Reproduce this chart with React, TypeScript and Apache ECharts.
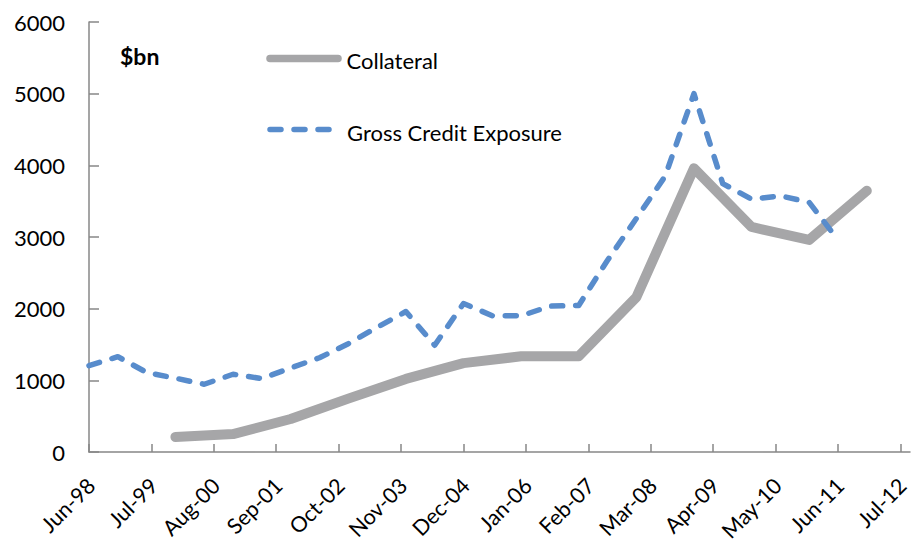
import React, { useEffect, useRef } from 'react';
import * as echarts from 'echarts';

const MONTHS = ['Jan', 'Feb', 'Mar', 'Apr', 'May', 'Jun', 'Jul', 'Aug', 'Sep', 'Oct', 'Nov', 'Dec'];

// Axis
const X_START = 'Jun-98';
const X_END = 'Sep-12';
const X_TICK_LABELS = ['Jun-98', 'Jul-99', 'Aug-00', 'Sep-01', 'Oct-02', 'Nov-03', 'Dec-04', 'Jan-06', 'Feb-07', 'Mar-08', 'Apr-09', 'May-10', 'Jun-11', 'Jul-12'];
const Y_MIN = 0;
const Y_MAX = 6000;
const Y_STEP = 1000;

// Gross Credit Exposure (semi-annual)
const GCE_DATES = ['Jun-98', 'Dec-98', 'Jun-99', 'Dec-99', 'Jun-00', 'Dec-00', 'Jun-01', 'Dec-01', 'Jun-02', 'Dec-02', 'Jun-03', 'Dec-03', 'Jun-04', 'Dec-04', 'Jun-05', 'Dec-05', 'Jun-06', 'Dec-06', 'Jun-07', 'Dec-07', 'Jun-08', 'Dec-08', 'Jun-09', 'Dec-09', 'Jun-10', 'Dec-10', 'Jun-11'];
const GCE_VALUES = [1205, 1330, 1110, 1030, 945, 1085, 1025, 1172, 1315, 1511, 1740, 1960, 1490, 2072, 1902, 1900, 2035, 2045, 2675, 3258, 3848, 5000, 3745, 3528, 3574, 3484, 2960];

// Collateral (annual, year-end)
const COLLATERAL_DATES = ['Dec-99', 'Dec-00', 'Dec-01', 'Dec-02', 'Dec-03', 'Dec-04', 'Dec-05', 'Dec-06', 'Dec-07', 'Dec-08', 'Dec-09', 'Dec-10', 'Dec-11'];
const COLLATERAL_VALUES = [210, 250, 460, 745, 1020, 1240, 1335, 1335, 2160, 3960, 3140, 2960, 3645];

const SERIES_NAMES = ['Collateral', 'Gross Credit Exposure'];
const UNIT_LABEL = '$bn';

const GREY = '#A6A6A8';
const BLUE = '#588CCC';

function dateToMonth(d: string): number {
  const [mon, yy] = d.split('-');
  const y = parseInt(yy, 10);
  const year = y < 50 ? 2000 + y : 1900 + y;
  const m = MONTHS.indexOf(mon);
  const [m0, yy0] = X_START.split('-');
  const y0 = parseInt(yy0, 10);
  const year0 = y0 < 50 ? 2000 + y0 : 1900 + y0;
  return (year - year0) * 12 + m - MONTHS.indexOf(m0);
}

const TICK_VALUES = X_TICK_LABELS.map(dateToMonth);

export default function App() {
  const ref = useRef<HTMLDivElement>(null);
  useEffect(() => {
    document.body.style.margin = '0';
    if (!ref.current) return;
    const chart = echarts.init(ref.current, undefined, { renderer: 'svg' });
    const axisColor = '#878787';
    const option: any = {
      animation: false,
      textStyle: { fontFamily: 'Lato' },
      grid: { left: 89, right: 2, top: 22, bottom: 91, containLabel: false, outerBoundsMode: 'none' },
      xAxis: {
        type: 'value',
        min: dateToMonth(X_START),
        max: dateToMonth(X_END),
        axisLine: { show: true, onZero: false, lineStyle: { color: axisColor, width: 1.5 } },
        axisTick: { show: true, inside: true, length: 8, lineStyle: { color: axisColor, width: 1.5 }, customValues: TICK_VALUES },
        axisLabel: {
          customValues: TICK_VALUES,
          formatter: (v: number) => {
            const i = TICK_VALUES.indexOf(Math.round(v));
            return i >= 0 ? X_TICK_LABELS[i] : '';
          },
          rotate: 45,
          margin: 32,
          padding: [0, -3, 0, 0],
          fontSize: 21.5,
          color: '#000',
          fontFamily: 'Lato',
        },
        splitLine: { show: false },
      },
      yAxis: {
        type: 'value',
        min: Y_MIN,
        max: Y_MAX,
        interval: Y_STEP,
        axisLine: { show: true, lineStyle: { color: axisColor, width: 1.5 } },
        axisTick: { show: true, inside: true, length: 10, lineStyle: { color: axisColor, width: 1.5 } },
        axisLabel: { margin: 24, fontSize: 22, color: '#000', fontFamily: 'Lato', formatter: (v: number) => String(v) },
        splitLine: { show: false },
      },
      graphic: [
        { type: 'text', left: 120, top: 44, style: { text: UNIT_LABEL, font: 'bold 23px Lato', fill: '#000' } },
        {
          type: 'line',
          shape: { x1: 270, y1: 58.5, x2: 338, y2: 58.5 },
          style: { stroke: GREY, lineWidth: 7.5, lineCap: 'round' },
        },
        {
          type: 'text',
          x: 346.5,
          y: 60,
          style: { text: SERIES_NAMES[0], font: '22px Lato', fill: '#000', verticalAlign: 'middle', align: 'left' },
        },
        {
          type: 'line',
          shape: { x1: 270, y1: 129.5, x2: 340, y2: 129.5 },
          style: { stroke: BLUE, lineWidth: 5.5, lineCap: 'round', lineDash: [11, 13] },
        },
        {
          type: 'text',
          x: 347,
          y: 132,
          style: { text: SERIES_NAMES[1], font: '22px Lato', fill: '#000', verticalAlign: 'middle', align: 'left' },
        },
      ],
      series: [
        {
          name: SERIES_NAMES[0],
          type: 'line',
          data: COLLATERAL_DATES.map((d, i) => [dateToMonth(d), COLLATERAL_VALUES[i]]),
          symbol: 'none',
          showSymbol: false,
          itemStyle: { color: GREY },
          lineStyle: { color: GREY, width: 10, cap: 'round', join: 'round' },
          z: 2,
        },
        {
          name: SERIES_NAMES[1],
          type: 'line',
          data: GCE_DATES.map((d, i) => [dateToMonth(d), GCE_VALUES[i]]),
          symbol: 'none',
          showSymbol: false,
          itemStyle: { color: BLUE },
          lineStyle: { color: BLUE, width: 5.5, type: [11, 13], cap: 'round', join: 'round' },
          z: 3,
        },
      ],
    };
    chart.setOption(option);
    return () => chart.dispose();
  }, []);
  return <div ref={ref} style={{ width: 912, height: 543 }} />;
}
